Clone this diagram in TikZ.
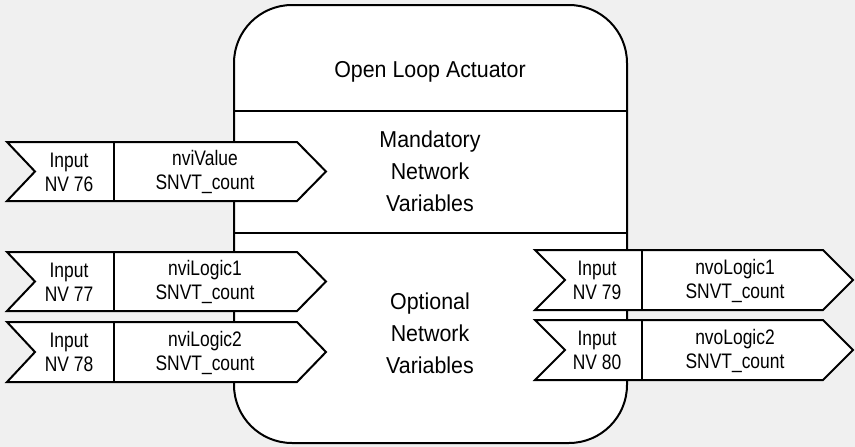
\documentclass[tikz,border=0pt]{standalone}
\usepackage{fontspec}
\setmainfont{Liberation Sans}
\newfontfamily\nvfont[FakeStretch=0.83]{Liberation Sans}
\newfontfamily\blockfont[FakeStretch=0.93]{Liberation Sans}
\definecolor{bggray}{HTML}{F0F0F0}
\tikzset{
  nvbox/.style={draw=black, fill=white, line width=2pt, line join=miter},
  nvline/.style={draw=black, line width=2pt},
  nvtext/.style={align=center, font=\nvfont\fontsize{21}{24}\selectfont, inner sep=0pt},
  blocktext/.style={align=center, font=\blockfont\fontsize{23}{32}\selectfont, inner sep=0pt}
}
\begin{document}
\begin{tikzpicture}[x=1pt,y=-1pt]
\fill[bggray] (0,0) rectangle (855,447);
\useasboundingbox (0,0) rectangle (855,447);
% actuator block
\draw[nvbox, rounded corners=58pt] (234,5) rectangle (627,443);
\draw[nvline] (234,111) -- (627,111);
\draw[nvline] (234,233) -- (627,233);
\node[blocktext] (title) at (430,72) {Open Loop Actuator};
\node[blocktext] (mandatory) at (430,171) {Mandatory\\Network\\Variables};
\node[blocktext] (optional) at (430,333) {Optional\\Network\\Variables};
% input variables
\draw[nvbox] (7,142) -- (297,142) -- (326,171.5) -- (297,201) -- (7,201) -- (35,171.5) -- cycle;
\draw[nvline] (114,142) -- (114,201);
\draw[nvbox] (7,252) -- (297,252) -- (326,281.5) -- (297,311) -- (7,311) -- (35,281.5) -- cycle;
\draw[nvline] (114,252) -- (114,311);
\draw[nvbox] (7,322) -- (297,322) -- (326,352) -- (297,382) -- (7,382) -- (35,352) -- cycle;
\draw[nvline] (114,322) -- (114,382);
\node[nvtext] (nv76) at (69,172) {Input\\NV 76};
\node[nvtext] (nv77) at (69,282) {Input\\NV 77};
\node[nvtext] (nv78) at (69,352.5) {Input\\NV 78};
\node[nvtext] (nvivalue) at (205,172) {nviValue\\SNVT\_count};
\node[nvtext] (nvilogic1) at (205,282) {nviLogic1\\SNVT\_count};
\node[nvtext] (nvilogic2) at (205,352.5) {nviLogic2\\SNVT\_count};
% output variables
\draw[nvbox] (535,250) -- (823,250) -- (853,280) -- (823,310) -- (535,310) -- (565,280) -- cycle;
\draw[nvline] (642,250) -- (642,310);
\draw[nvbox] (535,320) -- (823,320) -- (853,350) -- (823,380) -- (535,380) -- (565,350) -- cycle;
\draw[nvline] (642,320) -- (642,380);
\node[nvtext] (nv79) at (597,280.5) {Input\\NV 79};
\node[nvtext] (nv80) at (597,350.5) {Input\\NV 80};
\node[nvtext] (nvologic1) at (735,280.5) {nvoLogic1\\SNVT\_count};
\node[nvtext] (nvologic2) at (735,350.5) {nvoLogic2\\SNVT\_count};
\end{tikzpicture}
\end{document}
